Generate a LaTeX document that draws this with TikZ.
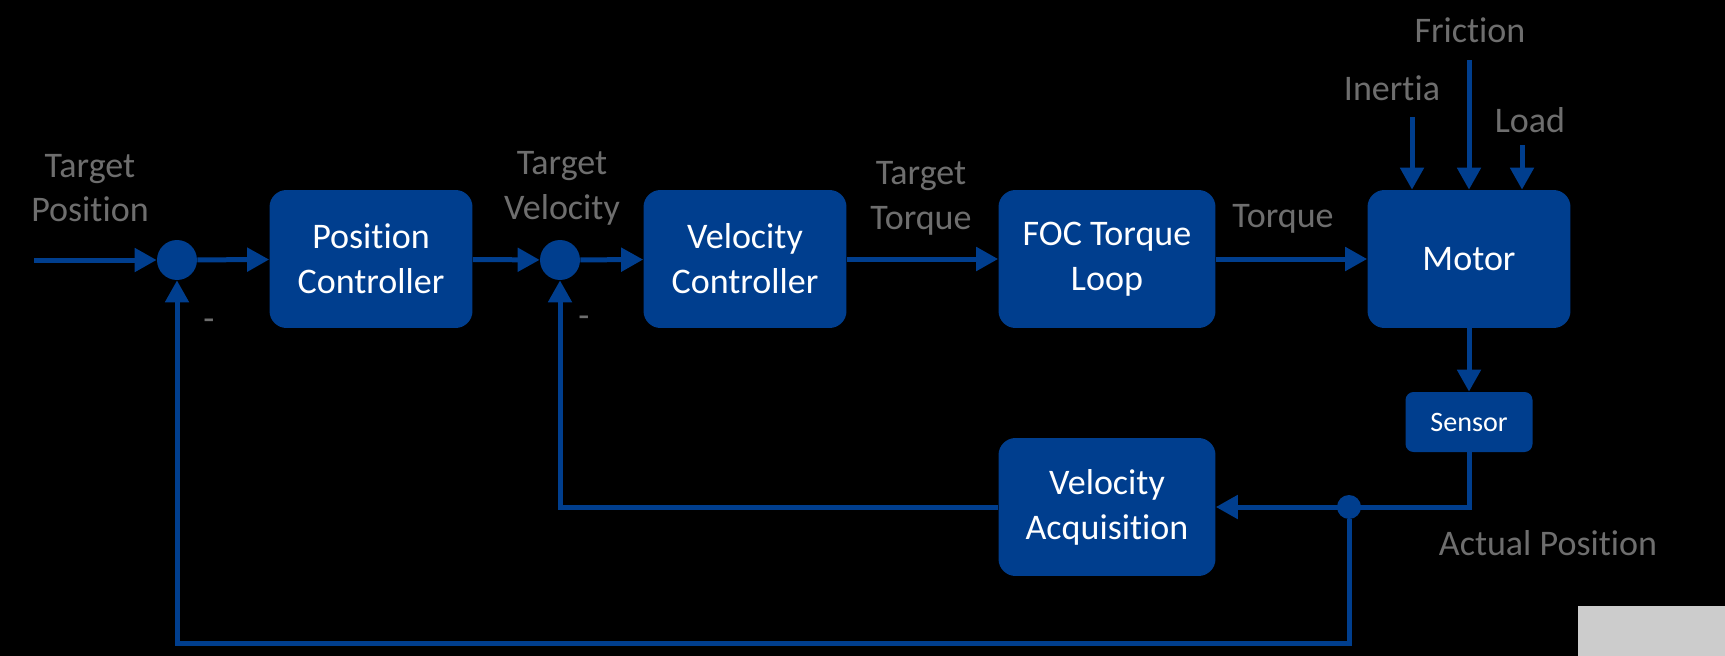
\documentclass[tikz,border=0pt]{standalone}
\usepackage{fontspec}
\setmainfont{Carlito}[Ligatures=NoCommon]
\usepackage{tikz}
\usetikzlibrary{arrows.meta,positioning}
\definecolor{ctrlblue}{RGB}{0,62,142}
\definecolor{labelgray}{RGB}{110,110,110}
\definecolor{cornergray}{RGB}{204,204,204}

\begin{document}
\begin{tikzpicture}[
    x=0.02cm, y=-0.02cm,
    block/.style={fill=ctrlblue, text=white, rounded corners=0.34cm, minimum width=4.06cm, minimum height=2.76cm, align=center, font=\fontsize{20.5pt}{25.5pt}\selectfont},
    wideblock/.style={block, minimum width=4.34cm},
    smallblock/.style={block, rounded corners=0.16cm, minimum width=2.54cm, minimum height=1.2cm, font=\fontsize{16pt}{19pt}\selectfont},
    sumpt/.style={circle, fill=ctrlblue, minimum size=0.8cm, inner sep=0pt},
    tappt/.style={circle, fill=ctrlblue, minimum size=0.48cm, inner sep=0pt},
    flow/.style={draw=ctrlblue, line width=0.1cm, -{Triangle[length=0.44cm, width=0.46cm]}},
    wire/.style={draw=ctrlblue, line width=0.1cm},
    lbl/.style={text=labelgray, align=center, font=\fontsize{20.5pt}{25.5pt}\selectfont}
  ]

  % Background
  \fill[black] (0,0) rectangle (1725,656);
  \fill[cornergray] (1578,606) rectangle (1725,656);

  % Blocks
  \node[block] (posctrl) at (371,259) {Position\\Controller};
  \node[block] (velctrl) at (745,259) {Velocity\\Controller};
  \node[wideblock] (foc) at (1107,259) {FOC Torque\\Loop};
  \node[block] (motor) at (1469,259) {Motor};
  \node[smallblock] (sensor) at (1469,422) {Sensor};
  \node[wideblock] (velacq) at (1107,507) {Velocity\\Acquisition};

  % Summing points
  \node[sumpt] (sum1) at (177,260) {};
  \node[sumpt] (sum2) at (560,260) {};
  \node[tappt] (tap) at (1349,507) {};

  % Labels
  \node[lbl] (lblpos) at (90,188) {Target\\Position};
  \node[lbl] (lblvel) at (562,188) {Target\\Velocity};
  \node[lbl] (lbltq) at (921,198) {Target\\Torque};
  \node[lbl] (lbltorque) at (1283,219) {Torque};
  \node[lbl] (lblinertia) at (1392,88) {Inertia};
  \node[lbl] (lblfriction) at (1470,30) {Friction};
  \node[lbl] (lblload) at (1530,120) {Load};
  \node[lbl] (lblactual) at (1548,543) {Actual Position};
  \node[lbl] (minus1) at (209,325) {-};
  \node[lbl] (minus2) at (584,322) {-};

  % Free ends
  \coordinate (inStart) at (34,260);
  \coordinate (inertiaIn) at (1412,117);
  \coordinate (frictionIn) at (1469,60);
  \coordinate (loadIn) at (1522,145);
  \coordinate (fbCorner) at (1349,643);

  % Forward path
  \draw[flow] (inStart) -- (sum1);
  \draw[flow] (sum1) -- (posctrl);
  \draw[flow] (posctrl) -- (sum2);
  \draw[flow] (sum2) -- (velctrl);
  \draw[flow] (velctrl) -- (foc);
  \draw[flow] (foc) -- (motor);

  % Disturbances
  \draw[flow] (inertiaIn) -- (inertiaIn |- motor.north);
  \draw[flow] (frictionIn) -- (frictionIn |- motor.north);
  \draw[flow] (loadIn) -- (loadIn |- motor.north);

  % Feedback
  \draw[flow] (motor) -- (sensor);
  \draw[flow] (sensor.south) -- (sensor.south |- velacq.east) -- (velacq.east);
  \draw[flow] (velacq.west) -- (velacq.west -| sum2) -- (sum2);
  \draw[flow] (tap) -- (fbCorner) -- (fbCorner -| sum1) -- (sum1);

\end{tikzpicture}
\end{document}
